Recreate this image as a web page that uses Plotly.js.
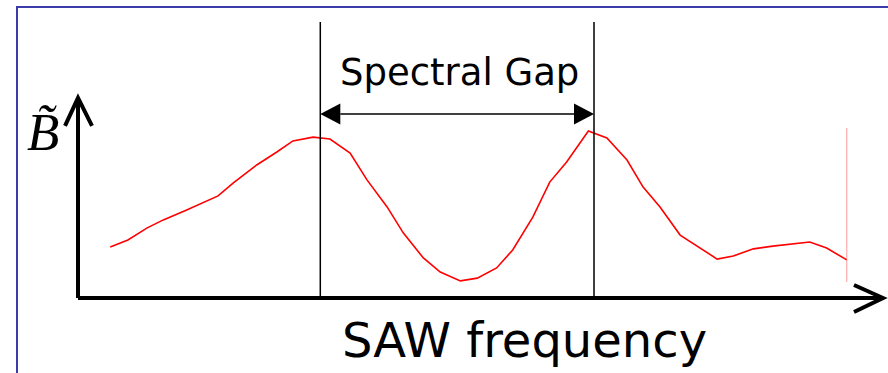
<!DOCTYPE html>
<html>
<head>
<meta charset="utf-8">
<script src="https://cdn.plot.ly/plotly-3.0.1.min.js"></script>
<style>html,body{margin:0;padding:0;background:#fff;}#chart{width:888px;height:373px;}</style>
</head>
<body>
<div id="chart"></div>
<script>
// ---- data (arbitrary units) ----
const freq = [4.0, 6.2, 8.6, 10.6, 13.5, 17.4, 19.3, 22.2, 24.7, 26.7,
              29.2, 31.3, 33.8, 35.9, 38.4, 40.4, 42.9, 45.0, 47.5, 49.6,
              52.0, 54.0, 56.5, 58.6, 60.7, 63.4, 65.7, 68.2, 70.2, 72.3,
              74.8, 77.0, 79.4, 81.4, 83.9, 86.3, 88.4, 90.9, 93.0, 95.5];
const bAmp = [18.5, 21.0, 25.4, 28.3, 31.9, 37.0, 41.7, 48.2, 52.9, 56.9,
              58.3, 57.6, 52.5, 42.8, 33.0, 23.6, 14.5, 9.4, 6.2, 7.2,
              10.9, 17.4, 29.3, 42.0, 49.3, 60.5, 58.0, 50.0, 40.2, 33.0,
              22.8, 18.5, 14.1, 15.2, 17.8, 18.8, 19.6, 20.3, 18.1, 13.8];
const gapEdges = [30.1, 64.1];
const gapLabel = 'Spectral Gap';
const xLabel = 'SAW frequency';
const yLabel = 'B\u0303';
const curveEnd = {x: 95.5, y0: 5.8, y1: 61.6};

// ---- layout geometry ----
const W = 888, H = 373;
const xRange = [-9.689, 100.621];
const yRange = [-27.174, 107.971];
const pxX = W / (xRange[1] - xRange[0]);   // px per x unit
const pxY = H / (yRange[1] - yRange[0]);   // px per y unit
const dx = p => p / pxX, dy = p => p / pxY;

const xEnd = 100.0, yEnd = 72.5, gapTop = 100, arrowY = 66.7;
const hl = dx(20), hh = dy(10.5);

const shapes = [
  // frame
  {type:'rect', xref:'paper', yref:'paper', x0:17/W, x1:1.02, y0:-0.05, y1:1-7/H,
   line:{color:'#3c3caa', width:2}, fillcolor:'rgba(0,0,0,0)'},
  // axes
  {type:'line', x0:0, y0:0, x1:0, y1:yEnd, line:{color:'#000', width:4}},
  {type:'path', path:`M ${-dx(13)},${yEnd-dy(28)} L 0,${yEnd} L ${dx(14)},${yEnd-dy(28)}`,
   line:{color:'#000', width:4}},
  {type:'line', x0:0, y0:0, x1:xEnd, y1:0, line:{color:'#000', width:4}},
  {type:'path', path:`M ${xEnd-dx(29)},${dy(13)} L ${xEnd},0 L ${xEnd-dx(29)},${-dy(14)}`,
   line:{color:'#000', width:4}},
  // gap edges
  {type:'line', x0:gapEdges[0], y0:0, x1:gapEdges[0], y1:gapTop, line:{color:'#000', width:1.5}},
  {type:'line', x0:gapEdges[1], y0:0, x1:gapEdges[1], y1:gapTop, line:{color:'#000', width:1.5}},
  // double arrow
  {type:'line', x0:gapEdges[0]+hl, y0:arrowY, x1:gapEdges[1]-hl, y1:arrowY, line:{color:'#000', width:1.5}},
  {type:'path', path:`M ${gapEdges[0]},${arrowY} L ${gapEdges[0]+hl},${arrowY+hh} L ${gapEdges[0]+hl},${arrowY-hh} Z`,
   fillcolor:'#000', line:{color:'#000', width:0}},
  {type:'path', path:`M ${gapEdges[1]},${arrowY} L ${gapEdges[1]-hl},${arrowY+hh} L ${gapEdges[1]-hl},${arrowY-hh} Z`,
   fillcolor:'#000', line:{color:'#000', width:0}},
  // faint end marker of the curve
  {type:'line', x0:curveEnd.x, y0:curveEnd.y0, x1:curveEnd.x, y1:curveEnd.y1,
   line:{color:'rgba(255,90,90,0.6)', width:1}}
];

const annotations = [
  {x:47.45, y:81.8, xref:'x', yref:'y', text:gapLabel, showarrow:false,
   xanchor:'center', yanchor:'middle', font:{family:'DejaVu Sans', size:37, color:'#000'}},
  {x:55.47, y:-15.36, xref:'x', yref:'y', text:xLabel, showarrow:false,
   xanchor:'center', yanchor:'middle', font:{family:'DejaVu Sans', size:48, color:'#000'}},
  {x:-4.4, y:60.0, xref:'x', yref:'y', text:'<i>'+yLabel+'</i>', showarrow:false,
   xanchor:'center', yanchor:'middle', font:{family:'Liberation Serif', size:53, color:'#000'}}
];

const traces = [{
  x: freq, y: bAmp, type:'scatter', mode:'lines',
  line:{color:'#ff0000', width:1.6}, hoverinfo:'skip'
}];

const layout = {
  width:W, height:H, margin:{l:0, r:0, t:0, b:0, pad:0},
  paper_bgcolor:'#fff', plot_bgcolor:'#fff', showlegend:false,
  xaxis:{range:xRange, visible:false, fixedrange:true},
  yaxis:{range:yRange, visible:false, fixedrange:true},
  shapes, annotations
};

Plotly.newPlot('chart', traces, layout, {displayModeBar:false, staticPlot:true});
</script>
</body>
</html>
